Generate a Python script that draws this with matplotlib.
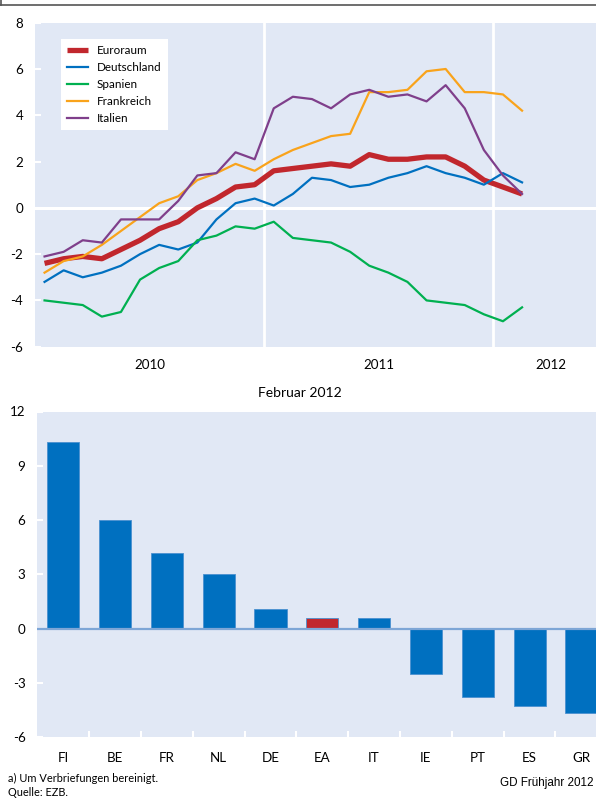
import matplotlib
matplotlib.use("Agg")
import matplotlib.pyplot as plt
from matplotlib.lines import Line2D
import numpy as np

plt.rcParams['font.family'] = ['Lato', 'DejaVu Sans']
plt.rcParams['axes.unicode_minus'] = False

# ---------------------------------------------------------------
# Daten: monatlich Jan 2010 bis Feb 2012 (Veraenderung ggü. Vorjahr, %)
# ---------------------------------------------------------------
monate = np.arange(26)  # 0 = Jan 2010 ... 25 = Feb 2012

euroraum = [-2.4, -2.2, -2.1, -2.2, -1.8, -1.4, -0.9, -0.6, 0.0, 0.4, 0.9, 1.0, 1.6,
            1.7, 1.8, 1.9, 1.8, 2.3, 2.1, 2.1, 2.2, 2.2, 1.8, 1.2, 0.9, 0.6]
deutschland = [-3.2, -2.7, -3.0, -2.8, -2.5, -2.0, -1.6, -1.8, -1.5, -0.5, 0.2, 0.4, 0.1,
               0.6, 1.3, 1.2, 0.9, 1.0, 1.3, 1.5, 1.8, 1.5, 1.3, 1.0, 1.5, 1.1]
spanien = [-4.0, -4.1, -4.2, -4.7, -4.5, -3.1, -2.6, -2.3, -1.4, -1.2, -0.8, -0.9, -0.6,
           -1.3, -1.4, -1.5, -1.9, -2.5, -2.8, -3.2, -4.0, -4.1, -4.2, -4.6, -4.9, -4.3]
frankreich = [-2.8, -2.3, -2.1, -1.6, -1.0, -0.4, 0.2, 0.5, 1.2, 1.5, 1.9, 1.6, 2.1,
              2.5, 2.8, 3.1, 3.2, 5.0, 5.0, 5.1, 5.9, 6.0, 5.0, 5.0, 4.9, 4.2]
italien = [-2.1, -1.9, -1.4, -1.5, -0.5, -0.5, -0.5, 0.3, 1.4, 1.5, 2.4, 2.1, 4.3,
           4.8, 4.7, 4.3, 4.9, 5.1, 4.8, 4.9, 4.6, 5.3, 4.3, 2.5, 1.4, 0.6]

jahre = ['2010', '2011', '2012']

# Balken: Februar 2012
laender = ['FI', 'BE', 'FR', 'NL', 'DE', 'EA', 'IT', 'IE', 'PT', 'ES', 'GR']
werte = [10.3, 6.0, 4.2, 3.0, 1.1, 0.6, 0.6, -2.5, -3.8, -4.3, -4.7]

# Farben
BG = '#E1E8F5'
ROT = '#C1272D'
BLAU = '#0070C0'
GRUEN = '#00B050'
ORANGE = '#F9A31B'
LILA = '#7F3F8B'

fig = plt.figure(figsize=(5.96, 8), dpi=100)

# ---------------------------------------------------------------
# Oberes Diagramm: Linien
# ---------------------------------------------------------------
ax1 = fig.add_axes([35 / 596, 1 - 346.7 / 800, 573 / 596, 324 / 800])
ax1.set_facecolor(BG)
for s in ax1.spines.values():
    s.set_visible(False)

x = monate + 0.5
ax1.plot(x, euroraum, color=ROT, lw=3.8, label='Euroraum', solid_capstyle='butt', zorder=3)
ax1.plot(x, deutschland, color=BLAU, lw=1.6, label='Deutschland', zorder=4)
ax1.plot(x, spanien, color=GRUEN, lw=1.6, label='Spanien', zorder=4)
ax1.plot(x, frankreich, color=ORANGE, lw=1.6, label='Frankreich', zorder=4)
ax1.plot(x, italien, color=LILA, lw=1.6, label='Italien', zorder=4)

ax1.axhline(0, color='white', lw=2.2, zorder=1)
for b in [12, 24]:
    ax1.axvline(b, color='white', lw=2.0, zorder=1)

ax1.set_xlim(0, 30)
ax1.set_ylim(-6, 8)
ax1.set_yticks(range(-6, 9, 2))
ax1.set_xticks([6, 18, 27])
ax1.set_xticklabels(jahre)
ax1.tick_params(axis='x', length=0, pad=8.5, labelsize=9.6)
ax1.tick_params(axis='y', direction='in', length=4, width=1.5, color='white',
                pad=8.5, labelsize=9.6)

leg = ax1.legend(loc='upper left', bbox_to_anchor=(0.045, 0.95), borderaxespad=0,
                 fontsize=8.4, frameon=True, fancybox=False, framealpha=1,
                 edgecolor='white', handlelength=1.75, handletextpad=0.8,
                 labelspacing=0.5, borderpad=0.55)
leg.get_frame().set_linewidth(0)

# ---------------------------------------------------------------
# Unteres Diagramm: Balken
# ---------------------------------------------------------------
ax2 = fig.add_axes([37.3 / 596, 1 - 737 / 800, 570 / 596, 325.5 / 800])
ax2.set_facecolor(BG)
for s in ax2.spines.values():
    s.set_visible(False)

farben = [ROT if l == 'EA' else BLAU for l in laender]
pos = np.arange(len(laender))
ax2.bar(pos, werte, width=0.62, color=farben, edgecolor='#4A90D0', linewidth=0.6, zorder=2)
ax2.axhline(0, color='#7EA6D6', lw=1.6, zorder=3)

ax2.set_xlim(-0.5, len(laender) - 0.5)
ax2.set_ylim(-6, 12)
ax2.set_yticks(range(-6, 13, 3))
ax2.set_xticks(pos)
ax2.set_xticklabels(laender)
ax2.set_xticks(pos[:-1] + 0.5, minor=True)
ax2.tick_params(axis='x', which='major', length=0, pad=10.5, labelsize=9.6)
ax2.tick_params(axis='x', which='minor', direction='in', length=4, width=1.5, color='white')
ax2.tick_params(axis='y', direction='in', length=4, width=1.5, color='white',
                pad=8.5, labelsize=9.6)

fig.text(300 / 596, 1 - 393 / 800, 'Februar 2012', ha='center', va='center', fontsize=10)

# Fußnoten
fig.text(8 / 596, 1 - 778 / 800, 'a) Um Verbriefungen bereinigt.', ha='left', va='center',
         fontsize=7.9)
fig.text(8 / 596, 1 - 793 / 800, 'Quelle: EZB.', ha='left', va='center', fontsize=7.9)
fig.text(594 / 596, 1 - 783 / 800, 'GD Frühjahr 2012', ha='right', va='center',
         fontsize=8.4, family='Liberation Sans')

# Rahmenlinie oben (abgeschnittener Kasten)
fig.add_artist(Line2D([0, 1], [1 - 5 / 800, 1 - 5 / 800], transform=fig.transFigure,
                      color='#555555', lw=1.2))
fig.add_artist(Line2D([0.5 / 596, 0.5 / 596], [1 - 5 / 800, 1], transform=fig.transFigure,
                      color='#555555', lw=1.2))

fig.savefig('out.png', dpi=100)
